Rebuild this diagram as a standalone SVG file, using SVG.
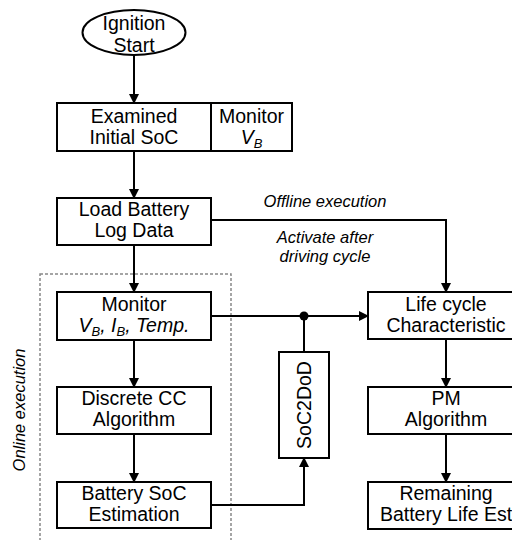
<svg xmlns="http://www.w3.org/2000/svg" width="512" height="540" viewBox="0 0 512 540">
<style>
.box{fill:#fff;stroke:#000;stroke-width:2}
.t{font-family:"Liberation Sans",Arial,sans-serif;font-size:19.5px;fill:#000;text-anchor:middle}
.it{font-family:"Liberation Sans",Arial,sans-serif;font-size:16.5px;font-style:italic;fill:#000;text-anchor:middle}
.sub{font-size:13px}
.c{fill:none;stroke:#000;stroke-width:2}
</style>
<defs>
<marker id="ah" markerWidth="10" markerHeight="10" refX="9" refY="5" orient="auto" markerUnits="userSpaceOnUse">
<path d="M0,0 L10,5 L0,10 z" fill="#000"/>
</marker>
</defs>
<rect width="512" height="540" fill="#fff"/>

<g id="online-region">
<rect x="40" y="274" width="191" height="280" fill="none" stroke="#888" stroke-width="1.5" stroke-dasharray="3,2"/>
<text class="it" font-size="16" transform="translate(25,410) rotate(-90)">Online execution</text>
</g>

<g id="connectors">
<path class="c" d="M134,55 V103" marker-end="url(#ah)"/>
<path class="c" d="M134,151 V198" marker-end="url(#ah)"/>
<path class="c" d="M134,245 V292" marker-end="url(#ah)"/>
<path class="c" d="M134,340 V387" marker-end="url(#ah)"/>
<path class="c" d="M134,434 V482" marker-end="url(#ah)"/>
<path class="c" d="M211,220 H446 V292" marker-end="url(#ah)"/>
<path class="c" d="M211,316 H368" marker-end="url(#ah)"/>
<circle cx="304" cy="316" r="4.5" fill="#000"/>
<path class="c" d="M304,316 V352"/>
<path class="c" d="M211,505 H304 V458" marker-end="url(#ah)"/>
<path class="c" d="M446,339 V387" marker-end="url(#ah)"/>
<path class="c" d="M446,434 V482" marker-end="url(#ah)"/>
<text class="it" x="325" y="207">Offline execution</text>
<text class="it" x="325" y="243">Activate after</text>
<text class="it" x="325" y="262">driving cycle</text>
</g>

<g id="ignition">
<ellipse class="box" cx="134" cy="32.5" rx="51.5" ry="22.5"/>
<text class="t" x="134" y="30">Ignition</text>
<text class="t" x="134" y="52">Start</text>
</g>

<g id="examined">
<rect class="box" x="57" y="103" width="154" height="48"/>
<text class="t" x="134" y="123">Examined</text>
<text class="t" x="134" y="144">Initial SoC</text>
</g>

<g id="monitor-vb">
<rect class="box" x="211" y="103" width="81" height="48"/>
<text class="t" x="251.5" y="123">Monitor</text>
<text class="t" x="251.5" y="144" font-style="italic">V<tspan class="sub" dy="4">B</tspan></text>
</g>

<g id="load">
<rect class="box" x="57" y="198" width="154" height="47"/>
<text class="t" x="134" y="216">Load Battery</text>
<text class="t" x="134" y="237">Log Data</text>
</g>

<g id="monitor">
<rect class="box" x="57" y="292" width="154" height="48"/>
<text class="t" x="134" y="311">Monitor</text>
<text class="t" x="134" y="332" font-style="italic">V<tspan class="sub" dy="4">B</tspan><tspan dy="-4">, I</tspan><tspan class="sub" dy="4">B</tspan><tspan dy="-4">, Temp.</tspan></text>
</g>

<g id="discrete">
<rect class="box" x="57" y="387" width="154" height="47"/>
<text class="t" x="134" y="405">Discrete CC</text>
<text class="t" x="134" y="426">Algorithm</text>
</g>

<g id="soc-est">
<rect class="box" x="57" y="482" width="154" height="46"/>
<text class="t" x="134" y="500">Battery SoC</text>
<text class="t" x="134" y="521">Estimation</text>
</g>

<g id="soc2dod">
<rect class="box" x="279" y="352" width="50" height="106"/>
<text class="t" font-size="19" transform="translate(311,405) rotate(-90)">SoC2DoD</text>
</g>

<g id="lifecycle">
<rect class="box" x="368" y="292" width="156" height="47"/>
<text class="t" x="446" y="311">Life cycle</text>
<text class="t" x="446" y="332">Characteristic</text>
</g>

<g id="pm">
<rect class="box" x="368" y="387" width="156" height="47"/>
<text class="t" x="446" y="405">PM</text>
<text class="t" x="446" y="426">Algorithm</text>
</g>

<g id="remaining">
<rect class="box" x="368" y="482" width="156" height="47"/>
<text class="t" x="446" y="500">Remaining</text>
<text class="t" x="446" y="521">Battery Life Est</text>
</g>
</svg>
